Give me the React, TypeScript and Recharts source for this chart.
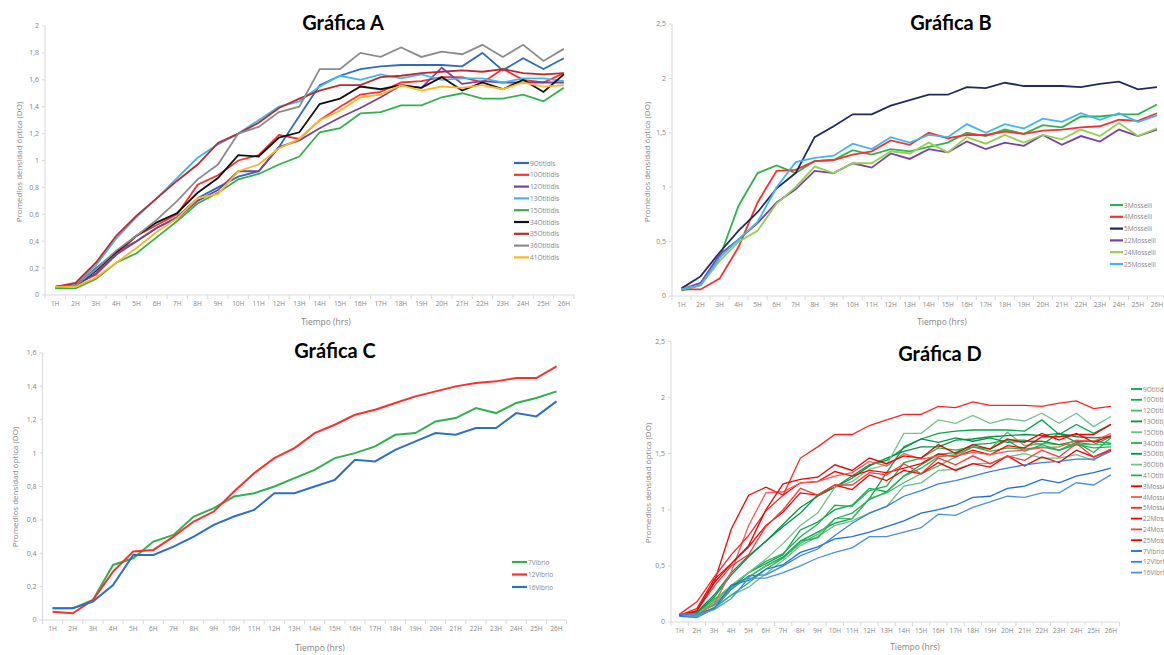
import React from 'react';
import { LineChart, Line, XAxis, YAxis } from 'recharts';

// ---------- categories ----------
const hours = ['1H', '2H', '3H', '4H', '5H', '6H', '7H', '8H', '9H', '10H', '11H', '12H', '13H', '14H', '15H', '16H', '17H', '18H', '19H', '20H', '21H', '22H', '23H', '24H', '25H', '26H'];

// ---------- Gráfica A (Otitidis) ----------
const o9 = [0.06, 0.07, 0.2, 0.32, 0.4, 0.5, 0.58, 0.72, 0.8, 0.88, 0.92, 1.1, 1.33, 1.56, 1.63, 1.68, 1.7, 1.71, 1.71, 1.71, 1.7, 1.8, 1.67, 1.76, 1.68, 1.76];
const o10 = [0.06, 0.08, 0.15, 0.3, 0.44, 0.52, 0.6, 0.82, 0.89, 1.0, 1.04, 1.19, 1.16, 1.3, 1.4, 1.49, 1.51, 1.58, 1.59, 1.62, 1.62, 1.58, 1.68, 1.6, 1.58, 1.65];
const o12 = [0.06, 0.07, 0.16, 0.3, 0.4, 0.5, 0.57, 0.7, 0.78, 0.92, 0.92, 1.1, 1.15, 1.24, 1.32, 1.39, 1.47, 1.56, 1.54, 1.69, 1.57, 1.59, 1.58, 1.58, 1.58, 1.58];
const o13 = [0.06, 0.08, 0.22, 0.42, 0.58, 0.72, 0.87, 1.02, 1.12, 1.2, 1.3, 1.4, 1.44, 1.55, 1.63, 1.6, 1.64, 1.61, 1.64, 1.6, 1.61, 1.61, 1.58, 1.61, 1.61, 1.59];
const o15 = [0.05, 0.05, 0.12, 0.24, 0.31, 0.43, 0.55, 0.68, 0.76, 0.86, 0.9, 0.97, 1.03, 1.21, 1.24, 1.35, 1.36, 1.41, 1.41, 1.47, 1.5, 1.46, 1.46, 1.49, 1.44, 1.54];
const o34 = [0.06, 0.07, 0.18, 0.32, 0.44, 0.54, 0.61, 0.76, 0.87, 1.04, 1.03, 1.17, 1.21, 1.42, 1.46, 1.55, 1.53, 1.56, 1.54, 1.62, 1.52, 1.58, 1.53, 1.6, 1.51, 1.64];
const o35 = [0.06, 0.09, 0.24, 0.44, 0.59, 0.72, 0.85, 0.97, 1.13, 1.2, 1.28, 1.39, 1.46, 1.52, 1.56, 1.56, 1.62, 1.63, 1.65, 1.66, 1.67, 1.66, 1.68, 1.65, 1.64, 1.65];
const o36 = [0.06, 0.07, 0.19, 0.33, 0.44, 0.56, 0.7, 0.86, 0.97, 1.2, 1.25, 1.36, 1.4, 1.68, 1.68, 1.8, 1.77, 1.84, 1.77, 1.81, 1.79, 1.86, 1.77, 1.86, 1.74, 1.83];
const o41 = [0.06, 0.06, 0.13, 0.24, 0.35, 0.47, 0.57, 0.72, 0.75, 0.92, 0.97, 1.09, 1.16, 1.3, 1.37, 1.47, 1.49, 1.56, 1.52, 1.55, 1.54, 1.56, 1.53, 1.58, 1.55, 1.56];

// ---------- Gráfica B (Mosselli) ----------
const m3 = [0.05, 0.1, 0.35, 0.83, 1.13, 1.2, 1.13, 1.24, 1.25, 1.34, 1.3, 1.35, 1.33, 1.37, 1.41, 1.5, 1.47, 1.53, 1.49, 1.57, 1.55, 1.65, 1.65, 1.67, 1.67, 1.76];
const m4 = [0.06, 0.06, 0.16, 0.45, 0.86, 1.15, 1.16, 1.24, 1.25, 1.3, 1.33, 1.43, 1.39, 1.5, 1.45, 1.48, 1.48, 1.51, 1.49, 1.52, 1.53, 1.55, 1.56, 1.62, 1.61, 1.68];
const m5 = [0.07, 0.18, 0.4, 0.6, 0.77, 0.99, 1.13, 1.46, 1.56, 1.67, 1.67, 1.75, 1.8, 1.85, 1.85, 1.92, 1.91, 1.96, 1.93, 1.93, 1.93, 1.92, 1.95, 1.97, 1.9, 1.92];
const m22 = [0.06, 0.12, 0.38, 0.52, 0.67, 0.86, 0.98, 1.15, 1.13, 1.22, 1.18, 1.31, 1.26, 1.35, 1.32, 1.42, 1.35, 1.41, 1.38, 1.48, 1.39, 1.47, 1.42, 1.53, 1.47, 1.53];
const m24 = [0.06, 0.1, 0.32, 0.5, 0.6, 0.85, 1.0, 1.19, 1.13, 1.22, 1.22, 1.33, 1.31, 1.41, 1.32, 1.46, 1.4, 1.48, 1.41, 1.48, 1.44, 1.53, 1.47, 1.59, 1.47, 1.54];
const m25 = [0.06, 0.1, 0.35, 0.52, 0.68, 1.0, 1.23, 1.27, 1.29, 1.4, 1.35, 1.46, 1.41, 1.48, 1.46, 1.58, 1.5, 1.58, 1.54, 1.63, 1.6, 1.68, 1.62, 1.68, 1.6, 1.66];

// ---------- Gráfica C (Vibrio) ----------
const v7 = [0.07, 0.07, 0.12, 0.33, 0.37, 0.47, 0.51, 0.62, 0.67, 0.74, 0.76, 0.8, 0.85, 0.9, 0.97, 1.0, 1.04, 1.11, 1.12, 1.19, 1.21, 1.27, 1.24, 1.3, 1.33, 1.37];
const v12 = [0.05, 0.04, 0.12, 0.29, 0.41, 0.42, 0.5, 0.59, 0.65, 0.77, 0.88, 0.97, 1.03, 1.12, 1.17, 1.23, 1.26, 1.3, 1.34, 1.37, 1.4, 1.42, 1.43, 1.45, 1.45, 1.52];
const v16 = [0.07, 0.07, 0.11, 0.21, 0.39, 0.39, 0.44, 0.5, 0.57, 0.62, 0.66, 0.76, 0.76, 0.8, 0.84, 0.96, 0.95, 1.02, 1.07, 1.12, 1.11, 1.15, 1.15, 1.24, 1.22, 1.31];

// ---------- axis ticks ----------
const ticksA = [0, 0.2, 0.4, 0.6, 0.8, 1, 1.2, 1.4, 1.6, 1.8, 2];
const ticksB = [0, 0.5, 1, 1.5, 2, 2.5];
const ticksC = [0, 0.2, 0.4, 0.6, 0.8, 1, 1.2, 1.4, 1.6];
const ticksD = [0, 0.5, 1, 1.5, 2, 2.5];

type S = { key: string; name: string; values: number[]; color: string };

const seriesA: S[] = [
  { key: 'o9', name: '9Otitidis', values: o9, color: '#2a6ebb' },
  { key: 'o10', name: '10Otitidis', values: o10, color: '#ff2d2d' },
  { key: 'o12', name: '12Otitidis', values: o12, color: '#7b3fa6' },
  { key: 'o13', name: '13Otitidis', values: o13, color: '#3db7f0' },
  { key: 'o15', name: '15Otitidis', values: o15, color: '#2fb24c' },
  { key: 'o34', name: '34Otitidis', values: o34, color: '#111111' },
  { key: 'o35', name: '35Otitidis', values: o35, color: '#c0282d' },
  { key: 'o36', name: '36Otitidis', values: o36, color: '#8c8c8c' },
  { key: 'o41', name: '41Otitidis', values: o41, color: '#ffb71e' },
];
const seriesB: S[] = [
  { key: 'm3', name: '3Mosselli', values: m3, color: '#2fb24c' },
  { key: 'm4', name: '4Mosselli', values: m4, color: '#ff2d2d' },
  { key: 'm5', name: '5Mosselli', values: m5, color: '#1f2b5c' },
  { key: 'm22', name: '22Mosselli', values: m22, color: '#7b3fa6' },
  { key: 'm24', name: '24Mosselli', values: m24, color: '#92d050' },
  { key: 'm25', name: '25Mosselli', values: m25, color: '#3db7f0' },
];
const seriesC: S[] = [
  { key: 'v7', name: '7Vibrio', values: v7, color: '#2fb24c' },
  { key: 'v12', name: '12Vibrio', values: v12, color: '#ff2d2d' },
  { key: 'v16', name: '16Vibrio', values: v16, color: '#2a72c0' },
];
const greensD = ['#00a651', '#0aa84f', '#4cbb6c', '#00963f', '#66c285', '#22b14c', '#009245', '#70c48a', '#1fb25a'];
const redsD = ['#ff0000', '#ff5555', '#ff2222', '#f50000', '#ff3a3a', '#ee0000'];
const bluesD = ['#1f6fd1', '#3383dd', '#4a90e0'];
const seriesD: S[] = [
  ...seriesA.map((s, i) => ({ ...s, color: greensD[i] })),
  ...seriesB.map((s, i) => ({ ...s, color: redsD[i] })),
  ...seriesC.map((s, i) => ({ ...s, color: bluesD[i] })),
];

function buildRows(series: S[]) {
  return hours.map((h, i) => {
    const r: any = { hour: h };
    series.forEach((s) => (r[s.key] = s.values[i]));
    return r;
  });
}

const AXIS = '#d9d9d9';
const TXT = '#858585';
const SMALL_FONT = '"Open Sans", sans-serif';

const fmt = (v: number) => String(v).replace('.', ',');

type PanelProps = {
  left: number; top: number; width: number; height: number;
  plot: { left: number; right: number; top: number; bottom: number };
  yMax: number; yTicks: number[]; series: S[]; sw: number;
};

function Panel({ left, top, width, height, plot, yMax, yTicks, series, sw }: PanelProps) {
  const data = buildRows(series);
  const step = (plot.right - plot.left) / hours.length;
  const last = hours.length - 1;
  const renderTick = (p: any) => {
    const { x, y, payload, index } = p;
    return (
      <g>
        <line x1={x - step / 2} x2={x - step / 2} y1={y} y2={y + 4} stroke={AXIS} />
        {index === last && <line x1={x + step / 2} x2={x + step / 2} y1={y} y2={y + 4} stroke={AXIS} />}
        <text x={x} y={y + 11} textAnchor="middle" fontSize={6.5} fill={TXT} fontFamily={SMALL_FONT}>
          {payload.value}
        </text>
      </g>
    );
  };
  return (
    <div style={{ position: 'absolute', left, top }}>
      <LineChart
        width={width}
        height={height}
        data={data}
        margin={{ top: plot.top, right: width - plot.right, bottom: 0, left: 0 }}
      >
        <XAxis
          dataKey="hour"
          type="category"
          height={height - plot.bottom}
          interval={0}
          padding={{ left: step / 2, right: step / 2 }}
          tickLine={false}
          tickSize={0}
          tickMargin={0}
          axisLine={{ stroke: AXIS }}
          tick={renderTick}
        />
        <YAxis
          type="number"
          width={plot.left}
          domain={[0, yMax]}
          ticks={yTicks}
          interval={0}
          tickFormatter={fmt}
          tickSize={3}
          tickMargin={3}
          axisLine={{ stroke: AXIS }}
          tickLine={{ stroke: AXIS }}
          tick={{ fontSize: 7, fill: TXT, fontFamily: SMALL_FONT }}
        />
        {series.map((s) => (
          <Line
            key={s.key}
            type="linear"
            dataKey={s.key}
            name={s.name}
            stroke={s.color}
            strokeWidth={sw}
            dot={false}
            activeDot={false}
            isAnimationActive={false}
          />
        ))}
      </LineChart>
    </div>
  );
}

function LegendBlock({ series, x, y, gap, len, sw }: { series: S[]; x: number; y: number; gap: number; len: number; sw: number }) {
  return (
    <g>
      {series.map((s, i) => (
        <g key={s.key}>
          <line x1={x} x2={x + len} y1={y + i * gap} y2={y + i * gap} stroke={s.color} strokeWidth={sw} />
          <text x={x + len + 1} y={y + i * gap} dominantBaseline="central" fontSize={6.5} fill={TXT} fontFamily={SMALL_FONT}>
            {s.name}
          </text>
        </g>
      ))}
    </g>
  );
}

const TITLE_FONT = 'Lato, "Open Sans", sans-serif';
const YLABEL = 'Promedios densidad óptica (DO)';
const XLABEL = 'Tiempo (hrs)';

export default function App() {
  return (
    <div style={{ position: 'absolute', left: 0, top: 0, width: 1164, height: 655, overflow: 'hidden', background: '#fff', fontFamily: SMALL_FONT }}>
      <Panel left={0} top={0} width={582} height={330} plot={{ left: 45, right: 574, top: 26, bottom: 295 }} yMax={2} yTicks={ticksA} series={seriesA} sw={1.8} />
      <Panel left={582} top={0} width={586} height={330} plot={{ left: 90, right: 584.5, top: 24, bottom: 296 }} yMax={2.5} yTicks={ticksB} series={seriesB} sw={1.8} />
      <Panel left={0} top={327} width={582} height={328} plot={{ left: 42.5, right: 566.6, top: 26, bottom: 293 }} yMax={1.6} yTicks={ticksC} series={seriesC} sw={2} />
      <Panel left={582} top={327} width={582} height={328} plot={{ left: 89, right: 537.5, top: 14.3, bottom: 295 }} yMax={2.5} yTicks={ticksD} series={seriesD} sw={1.3} />
      <svg width={1164} height={655} style={{ position: 'absolute', left: 0, top: 0, pointerEvents: 'none' }}>
        {/* titles */}
        <text x={343} y={22} textAnchor="middle" dominantBaseline="central" fontSize={20} fontWeight={700} fontFamily={TITLE_FONT} fill="#000">Gráfica A</text>
        <text x={951} y={22} textAnchor="middle" dominantBaseline="central" fontSize={20} fontWeight={700} fontFamily={TITLE_FONT} fill="#000">Gráfica B</text>
        <text x={335} y={350} textAnchor="middle" dominantBaseline="central" fontSize={20} fontWeight={700} fontFamily={TITLE_FONT} fill="#000">Gráfica C</text>
        <text x={940} y={353} textAnchor="middle" dominantBaseline="central" fontSize={20} fontWeight={700} fontFamily={TITLE_FONT} fill="#000">Gráfica D</text>
        {/* y labels */}
        <text transform="translate(18,162) rotate(-90)" textAnchor="middle" dominantBaseline="central" fontSize={8} fill={TXT} fontFamily={SMALL_FONT}>{YLABEL}</text>
        <text transform="translate(646,162) rotate(-90)" textAnchor="middle" dominantBaseline="central" fontSize={8} fill={TXT} fontFamily={SMALL_FONT}>{YLABEL}</text>
        <text transform="translate(14,487) rotate(-90)" textAnchor="middle" dominantBaseline="central" fontSize={8} fill={TXT} fontFamily={SMALL_FONT}>{YLABEL}</text>
        <text transform="translate(647,483) rotate(-90)" textAnchor="middle" dominantBaseline="central" fontSize={8} fill={TXT} fontFamily={SMALL_FONT}>{YLABEL}</text>
        {/* x labels */}
        <text x={326} y={321} textAnchor="middle" dominantBaseline="central" fontSize={8.5} fill={TXT} fontFamily={SMALL_FONT}>{XLABEL}</text>
        <text x={942} y={321} textAnchor="middle" dominantBaseline="central" fontSize={8.5} fill={TXT} fontFamily={SMALL_FONT}>{XLABEL}</text>
        <text x={320} y={647} textAnchor="middle" dominantBaseline="central" fontSize={8.5} fill={TXT} fontFamily={SMALL_FONT}>{XLABEL}</text>
        <text x={915} y={646} textAnchor="middle" dominantBaseline="central" fontSize={8.5} fill={TXT} fontFamily={SMALL_FONT}>{XLABEL}</text>
        {/* legends */}
        <LegendBlock series={seriesA} x={514} y={163} gap={11.8} len={15} sw={2.2} />
        <LegendBlock series={seriesB} x={1110} y={205} gap={11.8} len={13} sw={2.2} />
        <LegendBlock series={seriesC} x={512} y={562} gap={12.5} len={15} sw={2.2} />
        <LegendBlock series={seriesD} x={1131} y={389} gap={10.8} len={11} sw={1.8} />
      </svg>
    </div>
  );
}
